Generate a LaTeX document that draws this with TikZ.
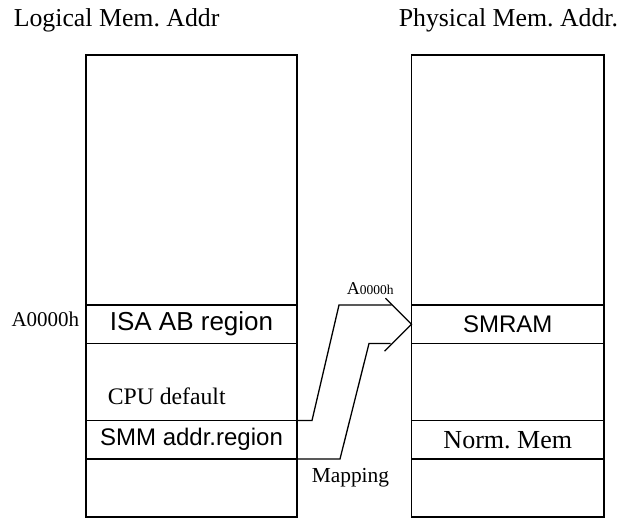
\documentclass[tikz,border=0pt]{standalone}
\usepackage{fontspec}
\setmainfont{Liberation Serif}
\newfontfamily\arialfont{Liberation Sans}
\usetikzlibrary{positioning}
\frenchspacing

\begin{document}
\begin{tikzpicture}[x=1pt,y=1pt, line width=1.6pt,
band/.style={draw, rectangle, inner sep=0pt, outer sep=0pt, minimum height=#1},
lband/.style={band=#1, minimum width=211pt},
rband/.style={band=#1, minimum width=192.5pt},
lbl/.style={inner sep=0pt, font=\fontsize{#1}{#1}\selectfont},
sanslbl/.style={font=\arialfont\fontsize{#1}{#1}\selectfont}]
\useasboundingbox (0,0) rectangle (621,518);
\node[lbl=25.8, anchor=base west] (ltitle) at (13,491.3) {Logical Mem. Addr};
\node[lbl=25.8, anchor=base west] (rtitle) at (398,491.3) {Physical Mem. Addr.};
\node[lband=250pt, anchor=north west] (ltop) at (86,463) {};
\node[lband=38.5pt, below=0pt of ltop, sanslbl=26] (isa) {ISA AB region};
\node[lband=77pt, below=0pt of isa] (lgap) {};
\node[lband=38.5pt, below=0pt of lgap, sanslbl=24] (smm) {SMM addr.region};
\node[lband=58pt, below=0pt of smm] (lbot) {};
\node[rband=250pt, anchor=north west] (rtop) at (411.5,463) {};
\node[rband=38.5pt, below=0pt of rtop, sanslbl=24] (smram) {SMRAM};
\node[rband=77pt, below=0pt of smram] (rgap) {};
\node[rband=38.5pt, below=0pt of rgap, font=\fontsize{26}{26}\selectfont] (norm) {Norm. Mem};
\node[rband=58pt, below=0pt of norm] (rbot) {};
\node[lbl=21, anchor=base east] (isaaddr) at ([xshift=-6pt,yshift=-2.5pt]isa.west) {A0000h};
\node[lbl=23.7, anchor=base west] (cpu) at ([xshift=21pt,yshift=15.5pt]smm.north west) {CPU default};
\node[lbl=21.4, anchor=base west] (maplbl) at ([xshift=14pt,yshift=-23.7pt]smm.south east) {Mapping};
\node[lbl=18, anchor=base west] (smraddr) at ([xshift=-65.5pt,yshift=10.7pt]smram.north west) {A{\fontsize{13.5}{15}\selectfont 0000h}};
\draw[line width=1.3pt] (smm.north east) -- ++(15,0) -- ([xshift=-72.5pt]smram.north west) -- ([xshift=-20pt]smram.north west);
\draw[line width=1.3pt] (smm.south east) -- ++(43,0) -- ([xshift=-42.5pt]smram.south west) -- ([xshift=-21pt]smram.south west);
\draw[line width=1.3pt] ([shift={(-26pt,26pt)}]smram.west) -- (smram.west) -- ++(-27,-27);
\end{tikzpicture}
\end{document}
